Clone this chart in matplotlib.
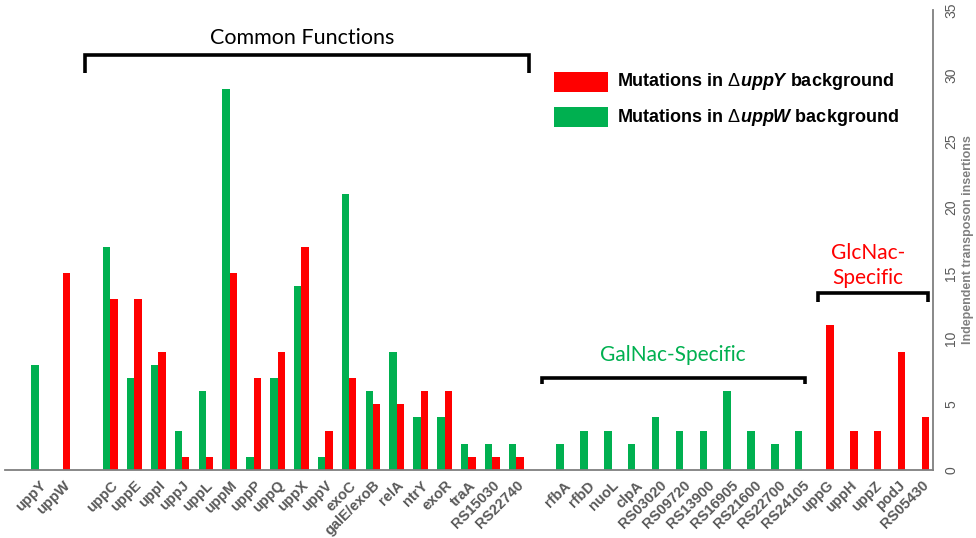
import matplotlib
matplotlib.use('Agg')
import matplotlib.pyplot as plt
import numpy as np
from matplotlib.patches import Rectangle

plt.rcParams['mathtext.fontset'] = 'custom'
plt.rcParams['mathtext.rm'] = 'Liberation Sans'
plt.rcParams['mathtext.it'] = 'Liberation Sans:italic:bold'
plt.rcParams['mathtext.bf'] = 'Liberation Sans:bold'

# ---------------- data ----------------
common_genes = ['uppC', 'uppE', 'uppI', 'uppJ', 'uppL', 'uppM', 'uppP', 'uppQ',
                'uppX', 'uppV', 'exoC', 'galE/exoB', 'relA', 'ntrY', 'exoR',
                'traA', 'RS15030', 'RS22740']
ctrl_genes = ['uppY', 'uppW']
galnac_genes = ['rfbA', 'rfbD', 'nuoL', 'clpA', 'RS03020', 'RS09720', 'RS13900',
                'RS16905', 'RS21600', 'RS22700', 'RS24105']
glcnac_genes = ['uppG', 'uppH', 'uppZ', 'podJ', 'RS05430']

# Mutations in ΔuppY background (red)
ctrl_uppY = [0, 15]
common_uppY = [13, 13, 9, 1, 1, 15, 7, 9, 17, 3, 7, 5, 5, 6, 6, 1, 1, 1]
galnac_uppY = [0, 0, 0, 0, 0, 0, 0, 0, 0, 0, 0]
glcnac_uppY = [11, 3, 3, 9, 4]

# Mutations in ΔuppW background (green)
ctrl_uppW = [8, 0]
common_uppW = [17, 7, 8, 3, 6, 29, 1, 7, 14, 1, 21, 6, 9, 4, 4, 2, 2, 2]
galnac_uppW = [2, 3, 3, 2, 4, 3, 3, 6, 3, 2, 3]
glcnac_uppW = [0, 0, 0, 0, 0]

yticks = [0, 5, 10, 15, 20, 25, 30, 35]

RED = '#FF0000'
GREEN = '#00B050'
GREY = '#595959'

# ---------------- layout ----------------
groups = [ctrl_genes, common_genes, galnac_genes, glcnac_genes]
gaps = [0, 1, 1, 0]
genes, pos = [], []
cur = 0
for g, gap in zip(groups, gaps):
    cur += gap
    for name in g:
        genes.append(name)
        pos.append(cur)
        cur += 1
pos = np.array(pos, dtype=float)
red_vals = np.array(ctrl_uppY + common_uppY + galnac_uppY + glcnac_uppY)
green_vals = np.array(ctrl_uppW + common_uppW + galnac_uppW + glcnac_uppW)

W, H = 976, 538
fig = plt.figure(figsize=(W / 100, H / 100), dpi=100)
ax = fig.add_axes([5 / W, 68 / H, 928 / W, 460 / H])

bw = 0.31
ax.bar(pos - bw / 2, green_vals, width=bw, color=GREEN, linewidth=0)
ax.bar(pos + bw / 2, red_vals, width=bw, color=RED, linewidth=0)

ax.set_xlim(-1.42, 37.47)
ax.set_ylim(0, 35)

for s in ['left', 'top']:
    ax.spines[s].set_visible(False)
for s in ['right', 'bottom']:
    ax.spines[s].set_color('#7F7F7F')
    ax.spines[s].set_linewidth(1.3)

ax.yaxis.tick_right()
ax.yaxis.set_label_position('right')
ax.set_yticks(yticks)
ax.set_yticklabels([str(v) for v in yticks], rotation=90, va='center',
                   color=GREY, fontsize=10, family='Liberation Sans')
ax.tick_params(axis='y', length=0, pad=8)
ax.set_ylabel('Independent transposon insertions', rotation=90, color='#808080',
              fontsize=9, fontweight='bold', family='Liberation Sans', labelpad=3)

ax.set_xticks(pos)
ax.set_xticklabels(genes, rotation=45, ha='right', va='top', rotation_mode='anchor',
                   color=GREY, fontsize=10.5, fontweight='bold',
                   family='Liberation Sans')
ax.tick_params(axis='x', length=0, pad=6)


def bracket(x0, x1, ytop, ytip):
    ax.plot([x0, x0, x1, x1], [ytip, ytop, ytop, ytip], color='black', lw=2.6,
            solid_joinstyle='miter', solid_capstyle='butt', clip_on=False)


bracket(1.93, 20.54, 31.58, 30.2)
ax.text(11.02, 32.87, 'Common Functions', ha='center', va='center',
        fontsize=15.5, family='Lato', color='black')

bracket(21.08, 32.1, 7.0, 6.55)
ax.text(26.57, 8.75, 'GalNac-Specific', ha='center', va='center',
        fontsize=15, family='Lato', color=GREEN)

bracket(32.65, 37.26, 13.47, 12.75)
ax.text(34.74, 16.5, 'GlcNac-', ha='center', va='center',
        fontsize=15, family='Lato', color=RED)
ax.text(34.74, 14.6, 'Specific', ha='center', va='center',
        fontsize=15, family='Lato', color=RED)

# legend
fig.patches.append(Rectangle((554 / W, 1 - 92 / H), 54 / W, 20 / H,
                             transform=fig.transFigure, color=RED, lw=0))
fig.patches.append(Rectangle((554 / W, 1 - 127 / H), 54 / W, 20 / H,
                             transform=fig.transFigure, color=GREEN, lw=0))
fig.text(617 / W, 1 - 82 / H, r'Mutations in $\Delta\mathit{uppY}$ background',
         ha='left', va='center', fontsize=13, fontweight='bold',
         family='Liberation Sans')
fig.text(617 / W, 1 - 117 / H, r'Mutations in $\Delta\mathit{uppW}$ background',
         ha='left', va='center', fontsize=13, fontweight='bold',
         family='Liberation Sans')

fig.savefig('out.png', dpi=100)
